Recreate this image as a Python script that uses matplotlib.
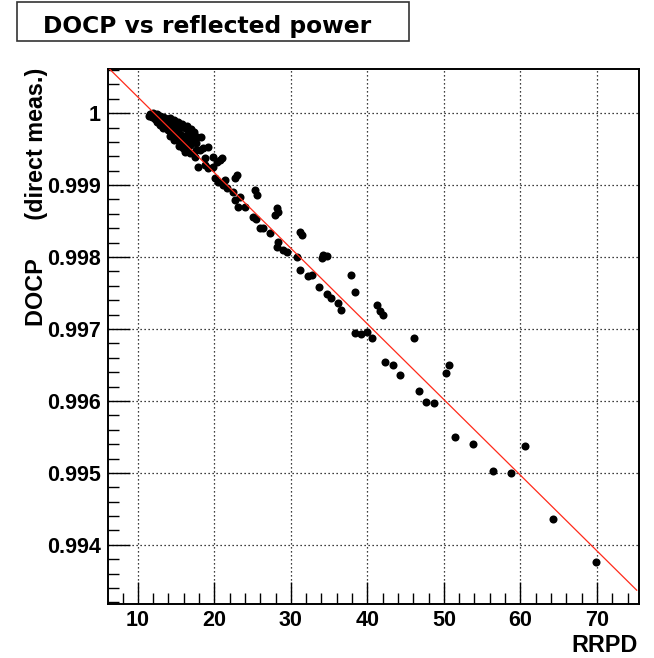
import numpy as np
import matplotlib.pyplot as plt
from matplotlib.patches import Rectangle
from matplotlib.ticker import MultipleLocator

# RRPD (reflected power) vs DOCP
rrpd = [11.57, 11.44, 11.96, 12.48, 12.88, 13.27, 13.66, 14.18, 14.70, 15.23,
        15.75, 16.40, 16.93, 17.32, 12.48, 13.53, 14.18, 14.97, 15.49, 16.01,
        14.18, 14.70, 15.36, 16.80, 17.58, 18.24, 19.80, 18.76, 17.58,
        11.83, 12.22, 12.61, 13.14, 13.53, 13.79, 14.18, 14.57, 15.10, 15.49,
        16.14, 16.54, 12.88, 13.27, 13.92, 14.44, 14.84, 15.23, 15.75, 15.88,
        16.40, 17.06, 17.71, 16.14, 16.80, 17.45, 18.10, 18.50, 19.15, 17.84,
        18.76, 19.15, 19.80, 20.33, 20.72, 20.98, 20.07, 20.46, 21.11, 21.63,
        21.37, 22.68, 22.94, 22.42, 22.68, 23.33, 23.07, 23.99, 25.29, 25.56,
        25.03, 25.43, 25.95, 26.34, 27.25, 28.17, 27.91, 28.30, 31.18, 31.44,
        28.30, 28.17, 28.95, 29.48, 30.78,
        34.18, 34.05, 34.71, 31.18, 32.22, 32.75, 33.66, 37.84, 38.36, 34.71,
        35.23, 36.14, 36.54, 41.24, 41.63, 42.03, 38.36, 39.15, 39.93, 40.58,
        46.08, 42.29, 43.33, 44.25, 50.65, 50.26, 46.73, 47.64, 48.69, 51.43,
        53.78, 60.58, 56.40, 58.75, 64.24, 69.87,
        13.0, 13.9, 14.4, 15.0, 15.6, 16.2, 16.6, 17.1, 12.3, 13.4, 14.9, 16.3]
docp = [0.999986, 0.999958, 1.000000, 0.999986, 0.999958, 0.999944, 0.999903, 0.999930, 0.999903, 0.999875,
        0.999847, 0.999819, 0.999777, 0.999735, 0.999875, 0.999819, 0.999805, 0.999749, 0.999708, 0.999680,
        0.999680, 0.999624, 0.999540, 0.999554, 0.999485, 0.999666, 0.999387, 0.999373, 0.999582,
        0.999944, 0.999972, 0.999930, 0.999903, 0.999930, 0.999861, 0.999875, 0.999833, 0.999861, 0.999805,
        0.999791, 0.999763, 0.999833, 0.999791, 0.999763, 0.999721, 0.999666, 0.999624, 0.999582, 0.999513,
        0.999652, 0.999666, 0.999666, 0.999457, 0.999443, 0.999387, 0.999485, 0.999513, 0.999526, 0.999248,
        0.999276, 0.999234, 0.999248, 0.999318, 0.999345, 0.999373, 0.999095, 0.999039, 0.998997, 0.998955,
        0.999067, 0.999095, 0.999136, 0.998900, 0.998788, 0.998830, 0.998691, 0.998691, 0.998928, 0.998858,
        0.998551, 0.998524, 0.998398, 0.998398, 0.998329, 0.998677, 0.998579, 0.998621, 0.998343, 0.998301,
        0.998203, 0.998134, 0.998092, 0.998064, 0.997994,
        0.998022, 0.997980, 0.998008, 0.997813, 0.997730, 0.997744, 0.997590, 0.997744, 0.997507, 0.997493,
        0.997437, 0.997368, 0.997270, 0.997340, 0.997256, 0.997201, 0.996950, 0.996936, 0.996964, 0.996880,
        0.996880, 0.996546, 0.996504, 0.996365, 0.996504, 0.996393, 0.996142, 0.995989, 0.995975, 0.995501,
        0.995404, 0.995376, 0.995028, 0.995000, 0.994359, 0.993760,
        0.999900, 0.999840, 0.999790, 0.999720, 0.999640, 0.999600, 0.999700, 0.999610, 0.999920, 0.999860, 0.999800, 0.999520]

# linear fit shown in red
fit_p0 = 1.001275
fit_p1 = -1.0512e-4
fit_range = [6.1, 75.2]

x_ticks = [10, 20, 30, 40, 50, 60, 70]
y_ticks = [0.994, 0.995, 0.996, 0.997, 0.998, 0.999, 1.0]
y_labels = ['0.994', '0.995', '0.996', '0.997', '0.998', '0.999', '1']

plt.rcParams['font.family'] = ['Liberation Sans', 'DejaVu Sans']
plt.rcParams['font.weight'] = 'bold'

W, H = 654, 658
fig = plt.figure(figsize=(W / 100, H / 100), dpi=100)
ax = fig.add_axes([108 / W, 1 - 604 / H, (639 - 108) / W, (604 - 69) / H])

ax.plot(rrpd, docp, 'o', color='black', ms=5.8, mew=0, zorder=3)
xf = np.linspace(fit_range[0], fit_range[1], 200)
ax.plot(xf, fit_p0 + fit_p1 * xf, color='#ff2a1a', lw=0.9, zorder=4)

ax.set_xlim(6.1, 75.5)
ax.set_ylim(0.993178, 1.000613)
ax.set_xticks(x_ticks)
ax.set_yticks(y_ticks)
ax.set_yticklabels(y_labels)
ax.xaxis.set_minor_locator(MultipleLocator(2))
ax.yaxis.set_minor_locator(MultipleLocator(0.0002))
ax.tick_params(which='both', direction='in', color='black', width=1)
ax.tick_params(which='major', length=16, labelsize=15.5)
ax.tick_params(which='minor', length=8)
ax.tick_params(axis='x', which='major', pad=4)
ax.tick_params(axis='y', which='major', pad=5)
for lab in ax.get_xticklabels() + ax.get_yticklabels():
    lab.set_fontweight('bold')
ax.grid(True, which='major', color='black', linestyle=(0, (1, 2.2)), lw=0.9)
for s in ax.spines.values():
    s.set_linewidth(1.4)

fig.text(638 / W, 1 - 657 / H, 'RRPD', ha='right', va='bottom',
         fontsize=16.8, fontweight='bold')
fig.text(37 / W, 1 - 68 / H, 'DOCP      (direct meas.)', rotation=90,
         ha='center', va='top', fontsize=16.8, fontweight='bold')

# title box
fig.patches.append(Rectangle((17 / W, 1 - 41 / H), (409 - 17) / W, 39 / H,
                             transform=fig.transFigure, fill=False,
                             edgecolor='#333333', lw=1.2))
fig.text(43 / W, 1 - 33 / H, 'DOCP vs reflected power', ha='left', va='baseline',
         fontsize=16.8, fontweight='bold', family='DejaVu Sans')

fig.savefig('out.png', dpi=100)
